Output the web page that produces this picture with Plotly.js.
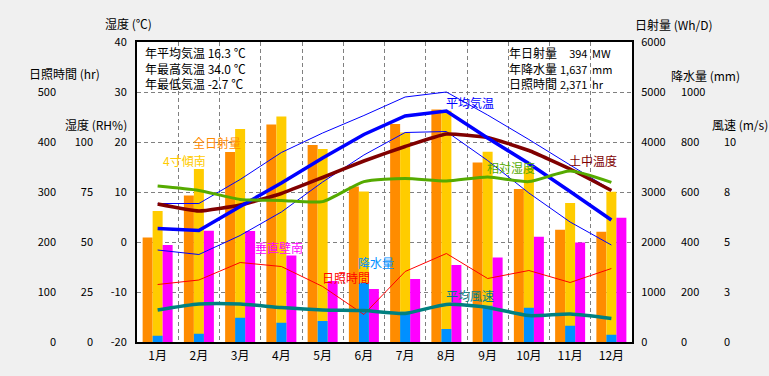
<!DOCTYPE html>
<html><head><meta charset="utf-8">
<script src="https://cdn.plot.ly/plotly-3.0.1.min.js"></script>
<style>html,body{margin:0;padding:0;background:#F0F0F0;}</style>
</head><body>
<div id="chart" style="width:769px;height:376px;"></div>
<script>
// ---- data ----
const months = ['1月','2月','3月','4月','5月','6月','7月','8月','9月','10月','11月','12月'];
const solarTotal = [2090, 2930, 3800, 4350, 3940, 3110, 4360, 4650, 3590, 3060, 2245, 2205]; // 全日射量 Wh/D
const solarTilt  = [2620, 3460, 4260, 4510, 3860, 3010, 4190, 4625, 3805, 3490, 2780, 3005]; // 4寸傾南 Wh/D
const solarWall  = [1940, 2225, 2220, 1730, 1220, 1060, 1260, 1540, 1690, 2105, 1990, 2485]; // 垂直壁南 Wh/D
const precip     = [25, 33, 97, 77, 84, 237, 121, 52, 145, 137, 65, 29];                     // 降水量 mm
const tempAvg    = [2.7, 2.3, 7.1, 11.8, 16.8, 21.5, 25.2, 26.2, 20.8, 15.7, 10.1, 4.4];     // 平均気温
const tempMax    = [7.7, 7.7, 12.5, 17.9, 21.8, 25.3, 29.0, 30.0, 25.4, 20.5, 15.4, 10.4];   // 最高
const tempMin    = [-1.6, -2.5, 1.3, 6.0, 12.0, 17.4, 21.9, 22.1, 16.3, 9.8, 4.0, -0.6];     // 最低
const soilTemp   = [7.6, 6.2, 7.4, 9.7, 12.9, 16.2, 19.1, 21.6, 20.9, 18.3, 14.6, 10.3];     // 土中温度
const humidity   = [78.0, 75.8, 71.3, 70.8, 70.2, 80.2, 81.8, 80.5, 82.5, 80.2, 85.5, 79.8]; // 相対湿度
const sunshine   = [115, 124, 159, 151, 111, 55, 141, 177, 127, 143, 119, 147];              // 日照時間 hr
const wind       = [1.60, 1.90, 1.90, 1.72, 1.60, 1.57, 1.43, 1.88, 1.73, 1.32, 1.40, 1.18]; // 平均風速 m/s

const tempTicks = [-20,-10,0,10,20,30,40];
const tempTickText = ['-20','-10','0','10','20','30','40'];
const rhTicks = [0,25,50,75,100];
const hrTicks = [0,100,200,300,400,500];
const solarTicks = [0,1000,2000,3000,4000,5000,6000];
const precipTicks = [0,200,400,600,800,1000];
const windTicks = [0,2.5,5,7.5,10];
const windTickText = ['0','3','5','8','10'];

// summary box texts
const leftBox = ['年平均気温 16.3 ℃', '年最高気温 34.0 ℃', '年最低気温 -2.7 ℃'];
const rightLabels = ['年日射量', '年降水量', '日照時間'];
const rightValues = ['394', '1,637', '2,371'];
const rightUnits = ['MW', 'mm', 'hr'];

// ---- layout geometry ----
const W=769, H=376, L=137, R=632, T=42, B=342;
const px = v => v/W, py = v => 1 - v/H;
const FONT = '"Noto Sans CJK JP","Noto Sans",sans-serif';
const bw = 10/41.25;
const GRID = {showgrid:true, griddash:'4px,3px', gridcolor:'#808080', gridwidth:1};

const traces = [
  {type:'bar', x:months, y:solarTotal, yaxis:'y',  width:bw, offset:-1.5*bw, marker:{color:'#FF8C00', line:{width:0}}},
  {type:'bar', x:months, y:solarTilt,  yaxis:'y',  width:bw, offset:-0.5*bw, marker:{color:'#FFCC00', line:{width:0}}},
  {type:'bar', x:months, y:solarWall,  yaxis:'y',  width:bw, offset: 0.5*bw, marker:{color:'#FF00FF', line:{width:0}}},
  {type:'bar', x:months, y:precip,     yaxis:'y2', width:bw, offset:-0.5*bw, marker:{color:'#0090FF', line:{width:0}}},
  {type:'scatter', mode:'lines', x:months, y:humidity, yaxis:'y4', line:{color:'#55AA00', width:3, shape:'spline', smoothing:0.6}},
  {type:'scatter', mode:'lines', x:months, y:tempMax,  yaxis:'y3', line:{color:'#0000FF', width:1}},
  {type:'scatter', mode:'lines', x:months, y:tempMin,  yaxis:'y3', line:{color:'#0000FF', width:1}},
  {type:'scatter', mode:'lines', x:months, y:soilTemp, yaxis:'y3', line:{color:'#800000', width:3.5, shape:'spline', smoothing:0.4}},
  {type:'scatter', mode:'lines', x:months, y:tempAvg,  yaxis:'y3', line:{color:'#0000FF', width:3.5}},
  {type:'scatter', mode:'lines', x:months, y:sunshine, yaxis:'y5', line:{color:'#FF0000', width:1}},
  {type:'scatter', mode:'lines', x:months, y:wind,     yaxis:'y6', line:{color:'#008080', width:3.5, shape:'spline', smoothing:0.6}}
];

const common = {zeroline:false, ticks:'', fixedrange:true, tickfont:{family:FONT, size:11, color:'#000'}};
const ydom = [1-B/H, 1-T/H];

function ann(text, x, y, color, xanchor, align){
  return {text:text, x:px(x), y:py(y), xref:'paper', yref:'paper', showarrow:false, borderpad:0,
          align:align||'center', xanchor:xanchor||'center', yanchor:'middle',
          font:{family:FONT, size:12, color:color||'#000'}};
}
const small = a => a.map(s => '<span style="font-size:11px">' + s + '</span>');

const annotations = [
  ann('湿度 (℃)', 128, 24),
  ann('日照時間 (hr)', 64, 74),
  ann('湿度 (RH%)', 96, 125),
  ann('日射量 (Wh/D)', 674, 25),
  ann('降水量 (mm)', 705, 75),
  ann('風速 (m/s)', 740, 125),
  ann(leftBox.join('<br>'), 144, 68, '#000', 'left', 'left'),
  ann(rightLabels.join('<br>'), 508, 68, '#000', 'left', 'left'),
  ann(small(rightValues).join('<br>'), 588, 68, '#000', 'right', 'right'),
  ann(small(rightUnits).join('<br>'), 591, 68, '#000', 'left', 'left'),
  ann('全日射量', 216.5, 143, '#FF8C00'),
  ann('4寸傾南', 184, 160.5, '#FFCC00'),
  ann('垂直壁南', 278.5, 247.5, '#FF00FF'),
  ann('日照時間', 346, 277, '#FF0000'),
  ann('降水量', 376, 262.5, '#0090FF'),
  ann('平均気温', 469.5, 102.5, '#0000FF'),
  ann('相対湿度', 510.5, 167.5, '#55AA00'),
  ann('土中温度', 592.5, 160.5, '#800000'),
  ann('平均風速', 469.5, 295.5, '#008080')
];

const layout = {
  width:W, height:H,
  margin:{l:0, r:0, t:0, b:0, pad:0},
  paper_bgcolor:'#F0F0F0', plot_bgcolor:'#FFFFFF',
  showlegend:false, barmode:'overlay',
  font:{family:FONT, size:12, color:'#000'},
  xaxis:Object.assign({}, common, GRID, {domain:[px(L), px(R)], type:'category', tickson:'boundaries',
        range:[-0.5, 11.5], showline:true, linecolor:'#000', linewidth:2, mirror:true, ticklabelstandoff:2,
        tickfont:{family:FONT, size:12, color:'#000'}}),
  yaxis:Object.assign({}, common, GRID, {domain:ydom, range:[0,6000], side:'right', anchor:'x',
        tickvals:solarTicks, showline:true, linecolor:'#000', linewidth:2, ticklabelstandoff:5}),
  yaxis2:Object.assign({}, common, {overlaying:'y', range:[0,1200], side:'right', anchor:'free',
        position:px(680), showgrid:false, showline:false, tickvals:precipTicks}),
  yaxis3:Object.assign({}, common, {overlaying:'y', range:[-20,40], side:'left', anchor:'x',
        showgrid:false, showline:true, linecolor:'#000', linewidth:2, tickvals:tempTicks, ticktext:tempTickText, ticklabelstandoff:6}),
  yaxis4:Object.assign({}, common, {overlaying:'y', range:[0,150], side:'left', anchor:'free',
        position:px(93), showgrid:false, showline:false, tickvals:rhTicks}),
  yaxis5:Object.assign({}, common, {overlaying:'y', range:[0,600], side:'left', anchor:'free',
        position:px(56), showgrid:false, showline:false, tickvals:hrTicks}),
  yaxis6:Object.assign({}, common, {overlaying:'y', range:[0,15], side:'right', anchor:'free',
        position:px(723), showgrid:false, showline:false, tickvals:windTicks, ticktext:windTickText}),
  annotations:annotations
};

Plotly.newPlot('chart', traces, layout, {staticPlot:true, displayModeBar:false});
</script>
</body></html>
